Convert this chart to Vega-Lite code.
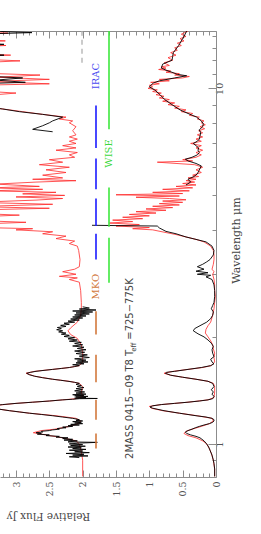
{
"$schema": "https://vega.github.io/schema/vega-lite/v6.json",
"width": 216, "height": 446,
"autosize": {"type": "none"},
"padding": {"left": 0, "top": 31, "right": 45, "bottom": 57},
"background": "white",
"config": {"view": {"stroke": null}, "axis": {"grid": false, "domainColor": "#8c8c8c", "tickColor": "#8c8c8c", "labelColor": "#555555", "titleColor": "#444444", "labelFont": "DejaVu Serif", "titleFont": "DejaVu Serif", "titleFontWeight": "normal", "labelFontSize": 9.5, "titleFontSize": 10.5}},
"resolve": {"axis": {"x": "independent", "y": "independent"}},
"datasets": {
"one": [{}],
"bands": [
{"sys":"MKO","lo":0.97,"hi":1.07},{"sys":"MKO","lo":1.17,"hi":1.33},{"sys":"MKO","lo":1.49,"hi":1.78},{"sys":"MKO","lo":2.03,"hi":2.36},
{"sys":"IRAC","lo":3.3,"hi":3.9},{"sys":"IRAC","lo":4.1,"hi":4.9},{"sys":"IRAC","lo":5.2,"hi":6.35},{"sys":"IRAC","lo":6.8,"hi":8.95},
{"sys":"WISE","lo":2.84,"hi":3.8},{"sys":"WISE","lo":4.08,"hi":5.26},{"sys":"WISE","lo":7.67,"hi":16}
],
"spec": [
{"g":"lo","s":"m","wl":0.81,"flux":0.02},{"g":"lo","s":"m","wl":0.85,"flux":0.02},{"g":"lo","s":"m","wl":0.9,"flux":0.04},{"g":"lo","s":"m","wl":0.94,"flux":0.07},{"g":"lo","s":"m","wl":0.97,"flux":0.1},{"g":"lo","s":"m","wl":1.0,"flux":0.14},{"g":"lo","s":"m","wl":1.02,"flux":0.2},{"g":"lo","s":"m","wl":1.04,"flux":0.3},{"g":"lo","s":"m","wl":1.055,"flux":0.42},{"g":"lo","s":"m","wl":1.07,"flux":0.48},{"g":"lo","s":"m","wl":1.085,"flux":0.45},{"g":"lo","s":"m","wl":1.1,"flux":0.36},{"g":"lo","s":"m","wl":1.12,"flux":0.22},{"g":"lo","s":"m","wl":1.14,"flux":0.1},{"g":"lo","s":"m","wl":1.16,"flux":0.04},{"g":"lo","s":"m","wl":1.18,"flux":0.06},{"g":"lo","s":"m","wl":1.2,"flux":0.28},{"g":"lo","s":"m","wl":1.22,"flux":0.55},{"g":"lo","s":"m","wl":1.24,"flux":0.8},{"g":"lo","s":"m","wl":1.26,"flux":0.97},{"g":"lo","s":"m","wl":1.275,"flux":1.0},{"g":"lo","s":"m","wl":1.29,"flux":0.82},{"g":"lo","s":"m","wl":1.31,"flux":0.42},{"g":"lo","s":"m","wl":1.33,"flux":0.12},{"g":"lo","s":"m","wl":1.35,"flux":0.03},{"g":"lo","s":"m","wl":1.4,"flux":0.02},{"g":"lo","s":"m","wl":1.45,"flux":0.02},{"g":"lo","s":"m","wl":1.48,"flux":0.04},{"g":"lo","s":"m","wl":1.5,"flux":0.12},{"g":"lo","s":"m","wl":1.52,"flux":0.3},{"g":"lo","s":"m","wl":1.54,"flux":0.5},{"g":"lo","s":"m","wl":1.56,"flux":0.68},{"g":"lo","s":"m","wl":1.58,"flux":0.78},{"g":"lo","s":"m","wl":1.6,"flux":0.64},{"g":"lo","s":"m","wl":1.62,"flux":0.42},{"g":"lo","s":"m","wl":1.64,"flux":0.2},{"g":"lo","s":"m","wl":1.66,"flux":0.07},{"g":"lo","s":"m","wl":1.7,"flux":0.02},{"g":"lo","s":"m","wl":1.75,"flux":0.03},{"g":"lo","s":"m","wl":1.8,"flux":0.02},{"g":"lo","s":"m","wl":1.85,"flux":0.04},{"g":"lo","s":"m","wl":1.9,"flux":0.05},{"g":"lo","s":"m","wl":1.95,"flux":0.08},{"g":"lo","s":"m","wl":2.0,"flux":0.12},{"g":"lo","s":"m","wl":2.05,"flux":0.16},{"g":"lo","s":"m","wl":2.1,"flux":0.15},{"g":"lo","s":"m","wl":2.15,"flux":0.12},{"g":"lo","s":"m","wl":2.2,"flux":0.08},{"g":"lo","s":"m","wl":2.3,"flux":0.05},{"g":"lo","s":"m","wl":2.4,"flux":0.03},{"g":"lo","s":"m","wl":2.5,"flux":0.02},{"g":"lo","s":"m","wl":2.6,"flux":0.01},{"g":"lo","s":"m","wl":2.7,"flux":0.02},{"g":"lo","s":"m","wl":2.8,"flux":0.02},{"g":"lo","s":"m","wl":2.9,"flux":0.03},{"g":"lo","s":"m","wl":3.0,"flux":0.05},{"g":"lo","s":"m","wl":3.05,"flux":0.03},{"g":"lo","s":"m","wl":3.1,"flux":0.06},{"g":"lo","s":"m","wl":3.2,"flux":0.04},{"g":"lo","s":"m","wl":3.3,"flux":0.03},{"g":"lo","s":"m","wl":3.4,"flux":0.03},{"g":"lo","s":"m","wl":3.5,"flux":0.04},{"g":"lo","s":"m","wl":3.6,"flux":0.08},{"g":"lo","s":"m","wl":3.7,"flux":0.18},{"g":"lo","s":"m","wl":3.76,"flux":0.3},{"g":"lo","s":"m","wl":3.82,"flux":0.45},{"g":"lo","s":"m","wl":3.88,"flux":0.6},{"g":"lo","s":"m","wl":3.94,"flux":0.78},{"g":"lo","s":"m","wl":4.0,"flux":0.95},{"g":"lo","s":"m","wl":4.03,"flux":1.25},{"g":"lo","s":"m","wl":4.06,"flux":1.0},{"g":"lo","s":"m","wl":4.1,"flux":1.5},{"g":"lo","s":"m","wl":4.14,"flux":1.15},{"g":"lo","s":"m","wl":4.18,"flux":1.6},{"g":"lo","s":"m","wl":4.22,"flux":1.25},{"g":"lo","s":"m","wl":4.26,"flux":1.55},{"g":"lo","s":"m","wl":4.3,"flux":1.1},{"g":"lo","s":"m","wl":4.34,"flux":1.4},{"g":"lo","s":"m","wl":4.38,"flux":1.0},{"g":"lo","s":"m","wl":4.42,"flux":1.3},{"g":"lo","s":"m","wl":4.46,"flux":0.9},{"g":"lo","s":"m","wl":4.5,"flux":1.2},{"g":"lo","s":"m","wl":4.54,"flux":0.75},{"g":"lo","s":"m","wl":4.58,"flux":1.05},{"g":"lo","s":"m","wl":4.62,"flux":0.65},{"g":"lo","s":"m","wl":4.66,"flux":0.95},{"g":"lo","s":"m","wl":4.7,"flux":0.55},{"g":"lo","s":"m","wl":4.74,"flux":0.85},{"g":"lo","s":"m","wl":4.78,"flux":0.5},{"g":"lo","s":"m","wl":4.82,"flux":0.8},{"g":"lo","s":"m","wl":4.86,"flux":0.45},{"g":"lo","s":"m","wl":4.9,"flux":0.7},{"g":"lo","s":"m","wl":4.94,"flux":1.2},{"g":"lo","s":"m","wl":4.98,"flux":0.55},{"g":"lo","s":"m","wl":5.02,"flux":1.5},{"g":"lo","s":"m","wl":5.06,"flux":0.5},{"g":"lo","s":"m","wl":5.1,"flux":0.95},{"g":"lo","s":"m","wl":5.15,"flux":0.4},{"g":"lo","s":"m","wl":5.2,"flux":0.8},{"g":"lo","s":"m","wl":5.25,"flux":0.35},{"g":"lo","s":"m","wl":5.3,"flux":0.6},{"g":"lo","s":"m","wl":5.35,"flux":0.3},{"g":"lo","s":"m","wl":5.4,"flux":0.5},{"g":"lo","s":"m","wl":5.45,"flux":0.32},{"g":"lo","s":"m","wl":5.5,"flux":0.45},{"g":"lo","s":"m","wl":5.55,"flux":0.3},{"g":"lo","s":"m","wl":5.6,"flux":0.42},{"g":"lo","s":"m","wl":5.65,"flux":0.26},{"g":"lo","s":"m","wl":5.7,"flux":0.35},{"g":"lo","s":"m","wl":5.8,"flux":0.22},{"g":"lo","s":"m","wl":5.9,"flux":0.3},{"g":"lo","s":"m","wl":6.0,"flux":0.2},{"g":"lo","s":"m","wl":6.1,"flux":0.32},{"g":"lo","s":"m","wl":6.2,"flux":0.88},{"g":"lo","s":"m","wl":6.25,"flux":0.35},{"g":"lo","s":"m","wl":6.3,"flux":0.5},{"g":"lo","s":"m","wl":6.4,"flux":0.3},{"g":"lo","s":"m","wl":6.5,"flux":0.22},{"g":"lo","s":"m","wl":6.6,"flux":0.3},{"g":"lo","s":"m","wl":6.7,"flux":0.2},{"g":"lo","s":"m","wl":6.8,"flux":0.3},{"g":"lo","s":"m","wl":6.9,"flux":0.22},{"g":"lo","s":"m","wl":7.0,"flux":0.38},{"g":"lo","s":"m","wl":7.1,"flux":0.22},{"g":"lo","s":"m","wl":7.2,"flux":0.3},{"g":"lo","s":"m","wl":7.3,"flux":0.2},{"g":"lo","s":"m","wl":7.4,"flux":0.28},{"g":"lo","s":"m","wl":7.5,"flux":0.2},{"g":"lo","s":"m","wl":7.6,"flux":0.26},{"g":"lo","s":"m","wl":7.7,"flux":0.17},{"g":"lo","s":"m","wl":7.8,"flux":0.24},{"g":"lo","s":"m","wl":7.9,"flux":0.16},{"g":"lo","s":"m","wl":8.0,"flux":0.22},{"g":"lo","s":"m","wl":8.1,"flux":0.18},{"g":"lo","s":"m","wl":8.2,"flux":0.28},{"g":"lo","s":"m","wl":8.3,"flux":0.25},{"g":"lo","s":"m","wl":8.4,"flux":0.4},{"g":"lo","s":"m","wl":8.5,"flux":0.35},{"g":"lo","s":"m","wl":8.6,"flux":0.52},{"g":"lo","s":"m","wl":8.7,"flux":0.45},{"g":"lo","s":"m","wl":8.8,"flux":0.62},{"g":"lo","s":"m","wl":8.9,"flux":0.55},{"g":"lo","s":"m","wl":9.0,"flux":0.72},{"g":"lo","s":"m","wl":9.1,"flux":0.62},{"g":"lo","s":"m","wl":9.2,"flux":0.8},{"g":"lo","s":"m","wl":9.3,"flux":0.7},{"g":"lo","s":"m","wl":9.4,"flux":0.85},{"g":"lo","s":"m","wl":9.5,"flux":0.78},{"g":"lo","s":"m","wl":9.6,"flux":0.9},{"g":"lo","s":"m","wl":9.7,"flux":0.82},{"g":"lo","s":"m","wl":9.8,"flux":0.95},{"g":"lo","s":"m","wl":9.9,"flux":0.88},{"g":"lo","s":"m","wl":10.0,"flux":1.02},{"g":"lo","s":"m","wl":10.1,"flux":0.95},{"g":"lo","s":"m","wl":10.2,"flux":1.0},{"g":"lo","s":"m","wl":10.3,"flux":0.85},{"g":"lo","s":"m","wl":10.4,"flux":0.98},{"g":"lo","s":"m","wl":10.5,"flux":0.7},{"g":"lo","s":"m","wl":10.6,"flux":0.85},{"g":"lo","s":"m","wl":10.7,"flux":0.5},{"g":"lo","s":"m","wl":10.8,"flux":0.4},{"g":"lo","s":"m","wl":10.9,"flux":0.62},{"g":"lo","s":"m","wl":11.0,"flux":0.55},{"g":"lo","s":"m","wl":11.1,"flux":0.75},{"g":"lo","s":"m","wl":11.2,"flux":0.68},{"g":"lo","s":"m","wl":11.3,"flux":0.86},{"g":"lo","s":"m","wl":11.4,"flux":0.75},{"g":"lo","s":"m","wl":11.5,"flux":0.82},{"g":"lo","s":"m","wl":11.6,"flux":0.7},{"g":"lo","s":"m","wl":11.8,"flux":0.78},{"g":"lo","s":"m","wl":12.0,"flux":0.65},{"g":"lo","s":"m","wl":12.2,"flux":0.72},{"g":"lo","s":"m","wl":12.4,"flux":0.6},{"g":"lo","s":"m","wl":12.6,"flux":0.68},{"g":"lo","s":"m","wl":12.8,"flux":0.58},{"g":"lo","s":"m","wl":13.0,"flux":0.62},{"g":"lo","s":"m","wl":13.2,"flux":0.52},{"g":"lo","s":"m","wl":13.4,"flux":0.58},{"g":"lo","s":"m","wl":13.6,"flux":0.48},{"g":"lo","s":"m","wl":13.8,"flux":0.54},{"g":"lo","s":"m","wl":14.0,"flux":0.45},{"g":"lo","s":"m","wl":14.2,"flux":0.52},{"g":"lo","s":"m","wl":14.5,"flux":0.42},

{"g":"loA","s":"o","wl":0.81,"flux":0.02},{"g":"loA","s":"o","wl":0.85,"flux":0.02},{"g":"loA","s":"o","wl":0.88,"flux":0.03},{"g":"loA","s":"o","wl":0.9,"flux":0.04},{"g":"loA","s":"o","wl":0.93,"flux":0.06},{"g":"loA","s":"o","wl":0.96,"flux":0.09},{"g":"loA","s":"o","wl":0.98,"flux":0.11},{"g":"loA","s":"o","wl":1.0,"flux":0.14},{"g":"loA","s":"o","wl":1.02,"flux":0.18},{"g":"loA","s":"o","wl":1.04,"flux":0.24},{"g":"loA","s":"o","wl":1.05,"flux":0.3},{"g":"loA","s":"o","wl":1.06,"flux":0.38},{"g":"loA","s":"o","wl":1.07,"flux":0.44},{"g":"loA","s":"o","wl":1.08,"flux":0.46},{"g":"loA","s":"o","wl":1.09,"flux":0.42},{"g":"loA","s":"o","wl":1.1,"flux":0.36},{"g":"loA","s":"o","wl":1.11,"flux":0.31},{"g":"loA","s":"o","wl":1.12,"flux":0.25},{"g":"loA","s":"o","wl":1.13,"flux":0.18},{"g":"loA","s":"o","wl":1.14,"flux":0.1},{"g":"loA","s":"o","wl":1.15,"flux":0.05},{"g":"loA","s":"o","wl":1.16,"flux":0.03},{"g":"loA","s":"o","wl":1.17,"flux":0.03},{"g":"loA","s":"o","wl":1.18,"flux":0.06},{"g":"loA","s":"o","wl":1.19,"flux":0.15},{"g":"loA","s":"o","wl":1.2,"flux":0.3},{"g":"loA","s":"o","wl":1.22,"flux":0.55},{"g":"loA","s":"o","wl":1.24,"flux":0.78},{"g":"loA","s":"o","wl":1.26,"flux":0.95},{"g":"loA","s":"o","wl":1.27,"flux":0.99},{"g":"loA","s":"o","wl":1.28,"flux":0.95},{"g":"loA","s":"o","wl":1.29,"flux":0.82},{"g":"loA","s":"o","wl":1.3,"flux":0.62},{"g":"loA","s":"o","wl":1.31,"flux":0.42},{"g":"loA","s":"o","wl":1.32,"flux":0.25},{"g":"loA","s":"o","wl":1.33,"flux":0.12},{"g":"loA","s":"o","wl":1.34,"flux":0.05},{"g":"loA","s":"o","wl":1.36,"flux":0.03},{"g":"loA","s":"o","wl":1.38,"flux":0.06},{"g":"loA","s":"o","wl":1.4,"flux":0.04},{"g":"loA","s":"o","wl":1.42,"flux":0.07},{"g":"loA","s":"o","wl":1.45,"flux":0.03},{"g":"loA","s":"o","wl":1.48,"flux":0.05},{"g":"loA","s":"o","wl":1.5,"flux":0.12},{"g":"loA","s":"o","wl":1.52,"flux":0.3},{"g":"loA","s":"o","wl":1.54,"flux":0.5},{"g":"loA","s":"o","wl":1.56,"flux":0.68},{"g":"loA","s":"o","wl":1.58,"flux":0.76},{"g":"loA","s":"o","wl":1.59,"flux":0.74},{"g":"loA","s":"o","wl":1.6,"flux":0.62},{"g":"loA","s":"o","wl":1.62,"flux":0.42},{"g":"loA","s":"o","wl":1.64,"flux":0.22},{"g":"loA","s":"o","wl":1.66,"flux":0.08},{"g":"loA","s":"o","wl":1.68,"flux":0.03},{"g":"loA","s":"o","wl":1.7,"flux":0.06},{"g":"loA","s":"o","wl":1.73,"flux":0.08},{"g":"loA","s":"o","wl":1.76,"flux":0.03},{"g":"loA","s":"o","wl":1.8,"flux":0.05},{"g":"loA","s":"o","wl":1.84,"flux":0.06},{"g":"loA","s":"o","wl":1.88,"flux":0.04},{"g":"loA","s":"o","wl":1.92,"flux":0.07},{"g":"loA","s":"o","wl":1.96,"flux":0.12},{"g":"loA","s":"o","wl":2.0,"flux":0.18},{"g":"loA","s":"o","wl":2.04,"flux":0.27},{"g":"loA","s":"o","wl":2.08,"flux":0.34},{"g":"loA","s":"o","wl":2.11,"flux":0.32},{"g":"loA","s":"o","wl":2.15,"flux":0.24},{"g":"loA","s":"o","wl":2.2,"flux":0.14},{"g":"loA","s":"o","wl":2.25,"flux":0.08},{"g":"loA","s":"o","wl":2.3,"flux":0.05},{"g":"loA","s":"o","wl":2.35,"flux":0.04},{"g":"loA","s":"o","wl":2.4,"flux":0.07},{"g":"loA","s":"o","wl":2.45,"flux":0.05},{"g":"loA","s":"o","wl":2.5,"flux":0.03},{"g":"loA","s":"o","wl":2.6,"flux":0.02},{"g":"loA","s":"o","wl":2.7,"flux":0.02},{"g":"loA","s":"o","wl":2.8,"flux":0.03},{"g":"loA","s":"o","wl":2.9,"flux":0.06},{"g":"loA","s":"o","wl":2.95,"flux":0.15},{"g":"loA","s":"o","wl":2.98,"flux":0.08},{"g":"loA","s":"o","wl":3.0,"flux":0.28},{"g":"loA","s":"o","wl":3.03,"flux":0.12},{"g":"loA","s":"o","wl":3.06,"flux":0.3},{"g":"loA","s":"o","wl":3.1,"flux":0.18},{"g":"loA","s":"o","wl":3.15,"flux":0.28},{"g":"loA","s":"o","wl":3.2,"flux":0.2},{"g":"loA","s":"o","wl":3.25,"flux":0.14},{"g":"loA","s":"o","wl":3.3,"flux":0.09},{"g":"loA","s":"o","wl":3.4,"flux":0.04},{"g":"loA","s":"o","wl":3.5,"flux":0.03},{"g":"loA","s":"o","wl":3.6,"flux":0.06},{"g":"loA","s":"o","wl":3.7,"flux":0.15},{"g":"loA","s":"o","wl":3.76,"flux":0.3},{"g":"loA","s":"o","wl":3.82,"flux":0.45},{"g":"loA","s":"o","wl":3.9,"flux":0.6},{"g":"loA","s":"o","wl":3.96,"flux":0.75},{"g":"loA","s":"o","wl":4.05,"flux":0.85},{"g":"loA","s":"o","wl":4.1,"flux":0.88},{"g":"loA","s":"o","wl":4.12,"flux":1.86},

{"g":"loB","s":"o","wl":5.35,"flux":0.45},{"g":"loB","s":"o","wl":5.45,"flux":0.38},{"g":"loB","s":"o","wl":5.55,"flux":0.42},{"g":"loB","s":"o","wl":5.65,"flux":0.33},{"g":"loB","s":"o","wl":5.75,"flux":0.28},{"g":"loB","s":"o","wl":5.85,"flux":0.26},{"g":"loB","s":"o","wl":5.95,"flux":0.24},{"g":"loB","s":"o","wl":6.05,"flux":0.22},{"g":"loB","s":"o","wl":6.15,"flux":0.3},{"g":"loB","s":"o","wl":6.25,"flux":0.42},{"g":"loB","s":"o","wl":6.32,"flux":0.46},{"g":"loB","s":"o","wl":6.4,"flux":0.36},{"g":"loB","s":"o","wl":6.5,"flux":0.28},{"g":"loB","s":"o","wl":6.6,"flux":0.25},{"g":"loB","s":"o","wl":6.7,"flux":0.27},{"g":"loB","s":"o","wl":6.8,"flux":0.26},{"g":"loB","s":"o","wl":6.9,"flux":0.3},{"g":"loB","s":"o","wl":7.0,"flux":0.34},{"g":"loB","s":"o","wl":7.1,"flux":0.28},{"g":"loB","s":"o","wl":7.2,"flux":0.25},{"g":"loB","s":"o","wl":7.35,"flux":0.24},{"g":"loB","s":"o","wl":7.5,"flux":0.23},{"g":"loB","s":"o","wl":7.65,"flux":0.25},{"g":"loB","s":"o","wl":7.8,"flux":0.2},{"g":"loB","s":"o","wl":7.95,"flux":0.19},{"g":"loB","s":"o","wl":8.1,"flux":0.22},{"g":"loB","s":"o","wl":8.3,"flux":0.29},{"g":"loB","s":"o","wl":8.5,"flux":0.42},{"g":"loB","s":"o","wl":8.7,"flux":0.54},{"g":"loB","s":"o","wl":9.0,"flux":0.66},{"g":"loB","s":"o","wl":9.3,"flux":0.77},{"g":"loB","s":"o","wl":9.6,"flux":0.84},{"g":"loB","s":"o","wl":9.9,"flux":0.92},{"g":"loB","s":"o","wl":10.1,"flux":1.0},{"g":"loB","s":"o","wl":10.35,"flux":0.94},{"g":"loB","s":"o","wl":10.5,"flux":0.85},{"g":"loB","s":"o","wl":10.7,"flux":0.62},{"g":"loB","s":"o","wl":10.85,"flux":0.44},{"g":"loB","s":"o","wl":10.95,"flux":0.58},{"g":"loB","s":"o","wl":11.1,"flux":0.66},{"g":"loB","s":"o","wl":11.25,"flux":0.75},{"g":"loB","s":"o","wl":11.4,"flux":0.82},{"g":"loB","s":"o","wl":11.7,"flux":0.8},{"g":"loB","s":"o","wl":12.0,"flux":0.66},{"g":"loB","s":"o","wl":12.3,"flux":0.65},{"g":"loB","s":"o","wl":12.6,"flux":0.64},{"g":"loB","s":"o","wl":12.9,"flux":0.6},{"g":"loB","s":"o","wl":13.2,"flux":0.56},{"g":"loB","s":"o","wl":13.7,"flux":0.51},{"g":"loB","s":"o","wl":14.0,"flux":0.48},{"g":"loB","s":"o","wl":14.5,"flux":0.44},

{"g":"up","s":"m","wl":0.81,"flux":2.0},{"g":"up","s":"m","wl":0.9,"flux":2.0},{"g":"up","s":"m","wl":0.95,"flux":2.02},{"g":"up","s":"m","wl":1.0,"flux":2.05},{"g":"up","s":"m","wl":1.02,"flux":2.1},{"g":"up","s":"m","wl":1.04,"flux":2.3},{"g":"up","s":"m","wl":1.06,"flux":2.55},{"g":"up","s":"m","wl":1.075,"flux":2.74},{"g":"up","s":"m","wl":1.09,"flux":2.62},{"g":"up","s":"m","wl":1.1,"flux":2.42},{"g":"up","s":"m","wl":1.12,"flux":2.2},{"g":"up","s":"m","wl":1.14,"flux":2.07},{"g":"up","s":"m","wl":1.16,"flux":2.03},{"g":"up","s":"m","wl":1.18,"flux":2.1},{"g":"up","s":"m","wl":1.2,"flux":2.4},{"g":"up","s":"m","wl":1.22,"flux":2.8},{"g":"up","s":"m","wl":1.24,"flux":3.1},{"g":"up","s":"m","wl":1.26,"flux":3.35},{"g":"up","s":"m","wl":1.28,"flux":3.35},{"g":"up","s":"m","wl":1.3,"flux":3.0},{"g":"up","s":"m","wl":1.32,"flux":2.5},{"g":"up","s":"m","wl":1.34,"flux":2.1},{"g":"up","s":"m","wl":1.36,"flux":2.0},{"g":"up","s":"m","wl":1.4,"flux":2.02},{"g":"up","s":"m","wl":1.45,"flux":2.0},{"g":"up","s":"m","wl":1.48,"flux":2.05},{"g":"up","s":"m","wl":1.5,"flux":2.2},{"g":"up","s":"m","wl":1.52,"flux":2.45},{"g":"up","s":"m","wl":1.55,"flux":2.72},{"g":"up","s":"m","wl":1.58,"flux":2.85},{"g":"up","s":"m","wl":1.6,"flux":2.72},{"g":"up","s":"m","wl":1.62,"flux":2.45},{"g":"up","s":"m","wl":1.64,"flux":2.2},{"g":"up","s":"m","wl":1.66,"flux":2.05},{"g":"up","s":"m","wl":1.7,"flux":2.0},{"g":"up","s":"m","wl":1.8,"flux":2.0},{"g":"up","s":"m","wl":1.9,"flux":2.02},{"g":"up","s":"m","wl":1.98,"flux":2.08},{"g":"up","s":"m","wl":2.03,"flux":2.18},{"g":"up","s":"m","wl":2.08,"flux":2.22},{"g":"up","s":"m","wl":2.12,"flux":2.18},{"g":"up","s":"m","wl":2.2,"flux":2.08},{"g":"up","s":"m","wl":2.3,"flux":2.03},{"g":"up","s":"m","wl":2.4,"flux":2.02},{"g":"up","s":"m","wl":2.5,"flux":2.02},{"g":"up","s":"m","wl":2.7,"flux":2.03},{"g":"up","s":"m","wl":2.85,"flux":2.05},{"g":"up","s":"m","wl":2.9,"flux":2.2},{"g":"up","s":"m","wl":2.93,"flux":2.08},{"g":"up","s":"m","wl":2.96,"flux":2.35},{"g":"up","s":"m","wl":3.0,"flux":2.1},{"g":"up","s":"m","wl":3.05,"flux":2.3},{"g":"up","s":"m","wl":3.1,"flux":2.12},{"g":"up","s":"m","wl":3.15,"flux":2.05},{"g":"up","s":"m","wl":3.3,"flux":2.04},{"g":"up","s":"m","wl":3.5,"flux":2.06},{"g":"up","s":"m","wl":3.6,"flux":2.08},{"g":"up","s":"m","wl":3.66,"flux":2.2},{"g":"up","s":"m","wl":3.72,"flux":2.12},{"g":"up","s":"m","wl":3.78,"flux":2.4},{"g":"up","s":"m","wl":3.84,"flux":2.25},{"g":"up","s":"m","wl":3.9,"flux":2.6},{"g":"up","s":"m","wl":3.95,"flux":2.45},{"g":"up","s":"m","wl":4.0,"flux":3.0},{"g":"up","s":"m","wl":4.03,"flux":2.75},{"g":"up","s":"m","wl":4.06,"flux":3.5},{"g":"up","s":"m","wl":4.15,"flux":3.6},{"g":"up","s":"m","wl":4.2,"flux":2.85},{"g":"up","s":"m","wl":4.25,"flux":3.6},{"g":"up","s":"m","wl":4.35,"flux":3.6},{"g":"up","s":"m","wl":4.4,"flux":2.95},{"g":"up","s":"m","wl":4.45,"flux":3.6},{"g":"up","s":"m","wl":4.55,"flux":3.6},{"g":"up","s":"m","wl":4.6,"flux":2.5},{"g":"up","s":"m","wl":4.65,"flux":3.6},{"g":"up","s":"m","wl":4.72,"flux":2.45},{"g":"up","s":"m","wl":4.78,"flux":3.6},{"g":"up","s":"m","wl":4.85,"flux":2.7},{"g":"up","s":"m","wl":4.9,"flux":2.3},{"g":"up","s":"m","wl":4.95,"flux":3.0},{"g":"up","s":"m","wl":5.0,"flux":2.27},{"g":"up","s":"m","wl":5.05,"flux":2.9},{"g":"up","s":"m","wl":5.1,"flux":2.4},{"g":"up","s":"m","wl":5.15,"flux":3.4},{"g":"up","s":"m","wl":5.2,"flux":2.6},{"g":"up","s":"m","wl":5.25,"flux":3.4},{"g":"up","s":"m","wl":5.3,"flux":2.65},{"g":"up","s":"m","wl":5.38,"flux":3.3},{"g":"up","s":"m","wl":5.45,"flux":2.7},{"g":"up","s":"m","wl":5.5,"flux":2.1},{"g":"up","s":"m","wl":5.55,"flux":2.75},{"g":"up","s":"m","wl":5.6,"flux":2.3},{"g":"up","s":"m","wl":5.7,"flux":2.6},{"g":"up","s":"m","wl":5.8,"flux":2.25},{"g":"up","s":"m","wl":5.9,"flux":2.55},{"g":"up","s":"m","wl":6.0,"flux":2.2},{"g":"up","s":"m","wl":6.1,"flux":2.65},{"g":"up","s":"m","wl":6.2,"flux":2.3},{"g":"up","s":"m","wl":6.3,"flux":2.5},{"g":"up","s":"m","wl":6.4,"flux":2.12},{"g":"up","s":"m","wl":6.5,"flux":2.2},{"g":"up","s":"m","wl":6.6,"flux":2.08},{"g":"up","s":"m","wl":6.7,"flux":2.4},{"g":"up","s":"m","wl":6.8,"flux":2.1},{"g":"up","s":"m","wl":6.9,"flux":2.3},{"g":"up","s":"m","wl":7.0,"flux":2.1},{"g":"up","s":"m","wl":7.1,"flux":2.2},{"g":"up","s":"m","wl":7.2,"flux":2.08},{"g":"up","s":"m","wl":7.3,"flux":2.2},{"g":"up","s":"m","wl":7.4,"flux":2.1},{"g":"up","s":"m","wl":7.6,"flux":2.15},{"g":"up","s":"m","wl":7.8,"flux":2.1},{"g":"up","s":"m","wl":8.0,"flux":2.2},{"g":"up","s":"m","wl":8.1,"flux":2.15},{"g":"up","s":"m","wl":8.2,"flux":2.35},{"g":"up","s":"m","wl":8.3,"flux":2.25},{"g":"up","s":"m","wl":8.45,"flux":2.6},{"g":"up","s":"m","wl":8.6,"flux":2.9},{"g":"up","s":"m","wl":8.7,"flux":3.1},{"g":"up","s":"m","wl":8.8,"flux":3.3},{"g":"up","s":"m","wl":9.0,"flux":3.6},{"g":"up","s":"m","wl":9.5,"flux":3.6},{"g":"up","s":"m","wl":9.7,"flux":3.0},{"g":"up","s":"m","wl":9.85,"flux":3.6},{"g":"up","s":"m","wl":10.2,"flux":3.6},{"g":"up","s":"m","wl":10.3,"flux":2.5},{"g":"up","s":"m","wl":10.45,"flux":3.4},{"g":"up","s":"m","wl":10.6,"flux":2.5},{"g":"up","s":"m","wl":10.75,"flux":3.3},{"g":"up","s":"m","wl":10.9,"flux":2.64},{"g":"up","s":"m","wl":11.05,"flux":3.6},{"g":"up","s":"m","wl":11.8,"flux":3.6},{"g":"up","s":"m","wl":11.95,"flux":2.94},{"g":"up","s":"m","wl":12.1,"flux":3.6},{"g":"up","s":"m","wl":12.3,"flux":3.6},{"g":"up","s":"m","wl":12.4,"flux":3.08},{"g":"up","s":"m","wl":12.55,"flux":3.6},{"g":"up","s":"m","wl":13.1,"flux":3.6},{"g":"up","s":"m","wl":13.2,"flux":3.15},{"g":"up","s":"m","wl":13.35,"flux":3.6},{"g":"up","s":"m","wl":13.5,"flux":3.6},{"g":"up","s":"m","wl":13.6,"flux":3.16},{"g":"up","s":"m","wl":13.75,"flux":3.6},{"g":"up","s":"m","wl":14.2,"flux":3.6},{"g":"up","s":"m","wl":14.3,"flux":3.12},{"g":"up","s":"m","wl":14.4,"flux":3.6},{"g":"up","s":"m","wl":14.6,"flux":3.6},

{"g":"upA","s":"o","wl":0.915,"flux":2.05},{"g":"upA","s":"o","wl":0.92,"flux":2.2},{"g":"upA","s":"o","wl":0.925,"flux":1.92},{"g":"upA","s":"o","wl":0.93,"flux":2.15},{"g":"upA","s":"o","wl":0.935,"flux":1.98},{"g":"upA","s":"o","wl":0.94,"flux":2.25},{"g":"upA","s":"o","wl":0.945,"flux":1.9},{"g":"upA","s":"o","wl":0.95,"flux":2.12},{"g":"upA","s":"o","wl":0.955,"flux":2.0},{"g":"upA","s":"o","wl":0.96,"flux":2.2},{"g":"upA","s":"o","wl":0.965,"flux":1.95},{"g":"upA","s":"o","wl":0.97,"flux":2.15},{"g":"upA","s":"o","wl":0.975,"flux":2.02},{"g":"upA","s":"o","wl":0.98,"flux":2.22},{"g":"upA","s":"o","wl":0.985,"flux":1.96},{"g":"upA","s":"o","wl":0.99,"flux":2.18},{"g":"upA","s":"o","wl":0.995,"flux":2.0},{"g":"upA","s":"o","wl":1.0,"flux":2.2},{"g":"upA","s":"o","wl":1.005,"flux":2.05},{"g":"upA","s":"o","wl":1.01,"flux":1.78},{"g":"upA","s":"o","wl":1.013,"flux":2.22},{"g":"upA","s":"o","wl":1.02,"flux":2.08},{"g":"upA","s":"o","wl":1.025,"flux":2.28},{"g":"upA","s":"o","wl":1.03,"flux":2.15},{"g":"upA","s":"o","wl":1.035,"flux":2.3},{"g":"upA","s":"o","wl":1.04,"flux":2.22},{"g":"upA","s":"o","wl":1.045,"flux":2.4},{"g":"upA","s":"o","wl":1.05,"flux":2.35},{"g":"upA","s":"o","wl":1.055,"flux":2.55},{"g":"upA","s":"o","wl":1.06,"flux":2.5},{"g":"upA","s":"o","wl":1.065,"flux":2.68},{"g":"upA","s":"o","wl":1.07,"flux":2.62},{"g":"upA","s":"o","wl":1.075,"flux":2.7},{"g":"upA","s":"o","wl":1.08,"flux":2.6},{"g":"upA","s":"o","wl":1.085,"flux":2.62},{"g":"upA","s":"o","wl":1.09,"flux":2.5},{"g":"upA","s":"o","wl":1.095,"flux":2.45},{"g":"upA","s":"o","wl":1.1,"flux":2.35},{"g":"upA","s":"o","wl":1.105,"flux":2.38},{"g":"upA","s":"o","wl":1.11,"flux":2.25},{"g":"upA","s":"o","wl":1.115,"flux":2.3},{"g":"upA","s":"o","wl":1.12,"flux":2.15},{"g":"upA","s":"o","wl":1.125,"flux":2.22},{"g":"upA","s":"o","wl":1.13,"flux":2.05},{"g":"upA","s":"o","wl":1.135,"flux":2.18},{"g":"upA","s":"o","wl":1.14,"flux":2.0},{"g":"upA","s":"o","wl":1.145,"flux":2.12},{"g":"upA","s":"o","wl":1.15,"flux":2.02},{"g":"upA","s":"o","wl":1.155,"flux":2.15},{"g":"upA","s":"o","wl":1.16,"flux":2.0},{"g":"upA","s":"o","wl":1.165,"flux":2.1},{"g":"upA","s":"o","wl":1.17,"flux":2.05},{"g":"upA","s":"o","wl":1.18,"flux":2.15},{"g":"upA","s":"o","wl":1.19,"flux":2.3},{"g":"upA","s":"o","wl":1.2,"flux":2.45},{"g":"upA","s":"o","wl":1.21,"flux":2.62},{"g":"upA","s":"o","wl":1.22,"flux":2.8},{"g":"upA","s":"o","wl":1.23,"flux":2.95},{"g":"upA","s":"o","wl":1.24,"flux":3.1},{"g":"upA","s":"o","wl":1.26,"flux":3.35},{"g":"upA","s":"o","wl":1.28,"flux":3.35},{"g":"upA","s":"o","wl":1.29,"flux":3.2},{"g":"upA","s":"o","wl":1.3,"flux":3.0},{"g":"upA","s":"o","wl":1.31,"flux":2.75},{"g":"upA","s":"o","wl":1.32,"flux":2.5},{"g":"upA","s":"o","wl":1.33,"flux":2.3},{"g":"upA","s":"o","wl":1.335,"flux":2.15},{"g":"upA","s":"o","wl":1.34,"flux":2.05},{"g":"upA","s":"o","wl":1.342,"flux":1.78},{"g":"upA","s":"o","wl":1.345,"flux":2.12},{"g":"upA","s":"o","wl":1.35,"flux":1.95},{"g":"upA","s":"o","wl":1.355,"flux":2.1},{"g":"upA","s":"o","wl":1.36,"flux":1.92},{"g":"upA","s":"o","wl":1.365,"flux":2.12},{"g":"upA","s":"o","wl":1.37,"flux":1.98},{"g":"upA","s":"o","wl":1.375,"flux":2.15},{"g":"upA","s":"o","wl":1.38,"flux":1.95},{"g":"upA","s":"o","wl":1.39,"flux":2.1},{"g":"upA","s":"o","wl":1.4,"flux":1.97},{"g":"upA","s":"o","wl":1.41,"flux":2.12},{"g":"upA","s":"o","wl":1.42,"flux":2.0},{"g":"upA","s":"o","wl":1.43,"flux":2.1},{"g":"upA","s":"o","wl":1.44,"flux":1.98},{"g":"upA","s":"o","wl":1.45,"flux":2.08},{"g":"upA","s":"o","wl":1.46,"flux":2.02},{"g":"upA","s":"o","wl":1.47,"flux":2.1},{"g":"upA","s":"o","wl":1.48,"flux":2.05},{"g":"upA","s":"o","wl":1.49,"flux":2.12},{"g":"upA","s":"o","wl":1.5,"flux":2.22},{"g":"upA","s":"o","wl":1.51,"flux":2.33},{"g":"upA","s":"o","wl":1.52,"flux":2.45},{"g":"upA","s":"o","wl":1.535,"flux":2.6},{"g":"upA","s":"o","wl":1.55,"flux":2.72},{"g":"upA","s":"o","wl":1.565,"flux":2.8},{"g":"upA","s":"o","wl":1.58,"flux":2.84},{"g":"upA","s":"o","wl":1.59,"flux":2.78},{"g":"upA","s":"o","wl":1.6,"flux":2.7},{"g":"upA","s":"o","wl":1.61,"flux":2.58},{"g":"upA","s":"o","wl":1.62,"flux":2.45},{"g":"upA","s":"o","wl":1.63,"flux":2.32},{"g":"upA","s":"o","wl":1.64,"flux":2.2},{"g":"upA","s":"o","wl":1.65,"flux":2.12},{"g":"upA","s":"o","wl":1.66,"flux":2.05},{"g":"upA","s":"o","wl":1.67,"flux":2.15},{"g":"upA","s":"o","wl":1.68,"flux":1.98},{"g":"upA","s":"o","wl":1.69,"flux":2.1},{"g":"upA","s":"o","wl":1.7,"flux":1.92},{"g":"upA","s":"o","wl":1.71,"flux":2.08},{"g":"upA","s":"o","wl":1.72,"flux":1.95},{"g":"upA","s":"o","wl":1.735,"flux":2.12},{"g":"upA","s":"o","wl":1.75,"flux":1.9},{"g":"upA","s":"o","wl":1.765,"flux":2.05},{"g":"upA","s":"o","wl":1.78,"flux":1.93},{"g":"upA","s":"o","wl":1.795,"flux":2.1},{"g":"upA","s":"o","wl":1.81,"flux":1.97},{"g":"upA","s":"o","wl":1.825,"flux":2.12},{"g":"upA","s":"o","wl":1.84,"flux":1.95},{"g":"upA","s":"o","wl":1.855,"flux":2.08},{"g":"upA","s":"o","wl":1.87,"flux":1.98},{"g":"upA","s":"o","wl":1.885,"flux":2.15},{"g":"upA","s":"o","wl":1.9,"flux":2.0},{"g":"upA","s":"o","wl":1.915,"flux":2.12},{"g":"upA","s":"o","wl":1.93,"flux":2.02},{"g":"upA","s":"o","wl":1.945,"flux":2.2},{"g":"upA","s":"o","wl":1.96,"flux":2.08},{"g":"upA","s":"o","wl":1.975,"flux":2.22},{"g":"upA","s":"o","wl":1.99,"flux":2.12},{"g":"upA","s":"o","wl":2.005,"flux":2.28},{"g":"upA","s":"o","wl":2.02,"flux":2.2},{"g":"upA","s":"o","wl":2.035,"flux":2.32},{"g":"upA","s":"o","wl":2.05,"flux":2.25},{"g":"upA","s":"o","wl":2.065,"flux":2.36},{"g":"upA","s":"o","wl":2.08,"flux":2.3},{"g":"upA","s":"o","wl":2.095,"flux":2.39},{"g":"upA","s":"o","wl":2.11,"flux":2.32},{"g":"upA","s":"o","wl":2.125,"flux":2.38},{"g":"upA","s":"o","wl":2.14,"flux":2.25},{"g":"upA","s":"o","wl":2.155,"flux":2.33},{"g":"upA","s":"o","wl":2.17,"flux":2.2},{"g":"upA","s":"o","wl":2.185,"flux":2.28},{"g":"upA","s":"o","wl":2.2,"flux":2.12},{"g":"upA","s":"o","wl":2.215,"flux":2.22},{"g":"upA","s":"o","wl":2.23,"flux":2.05},{"g":"upA","s":"o","wl":2.245,"flux":2.18},{"g":"upA","s":"o","wl":2.26,"flux":2.0},{"g":"upA","s":"o","wl":2.275,"flux":2.15},{"g":"upA","s":"o","wl":2.29,"flux":1.95},{"g":"upA","s":"o","wl":2.305,"flux":2.12},{"g":"upA","s":"o","wl":2.32,"flux":1.9},{"g":"upA","s":"o","wl":2.335,"flux":2.1},{"g":"upA","s":"o","wl":2.35,"flux":1.85},{"g":"upA","s":"o","wl":2.365,"flux":2.15},{"g":"upA","s":"o","wl":2.38,"flux":1.8},{"g":"upA","s":"o","wl":2.395,"flux":2.05},{"g":"upA","s":"o","wl":2.41,"flux":1.9},{"g":"upA","s":"o","wl":2.43,"flux":2.0},

{"g":"upB","s":"o","wl":7.55,"flux":2.45},{"g":"upB","s":"o","wl":7.67,"flux":2.75},{"g":"upB","s":"o","wl":7.85,"flux":2.6},{"g":"upB","s":"o","wl":8.0,"flux":2.5},{"g":"upB","s":"o","wl":8.1,"flux":2.45},{"g":"upB","s":"o","wl":8.3,"flux":2.3},{"g":"upB","s":"o","wl":8.45,"flux":2.6},{"g":"upB","s":"o","wl":8.6,"flux":2.95},{"g":"upB","s":"o","wl":8.75,"flux":3.2},{"g":"upB","s":"o","wl":8.9,"flux":3.5},{"g":"upB","s":"o","wl":9.5,"flux":3.6},{"g":"upB","s":"o","wl":10.3,"flux":3.6},{"g":"upB","s":"o","wl":10.4,"flux":2.86},{"g":"upB","s":"o","wl":10.55,"flux":3.3},{"g":"upB","s":"o","wl":10.7,"flux":2.9},{"g":"upB","s":"o","wl":10.85,"flux":3.6},{"g":"upB","s":"o","wl":12.3,"flux":3.6},{"g":"upB","s":"o","wl":12.4,"flux":3.18},{"g":"upB","s":"o","wl":12.5,"flux":3.6},{"g":"upB","s":"o","wl":13.1,"flux":3.6},{"g":"upB","s":"o","wl":13.3,"flux":3.18},{"g":"upB","s":"o","wl":13.45,"flux":3.6},{"g":"upB","s":"o","wl":14.2,"flux":3.6},{"g":"upB","s":"o","wl":14.35,"flux":2.76},{"g":"upB","s":"o","wl":14.5,"flux":3.4}
]
},
"layer": [
{"data": {"name": "spec"}, "transform": [{"filter": "datum.s == 'm'"}],
 "mark": {"type": "line", "color": "#ff2a2a", "strokeWidth": 0.8, "clip": true},
 "encoding": {
  "x": {"field": "flux", "type": "quantitative", "scale": {"domain": [0, 3.24], "reverse": true, "nice": false, "zero": false},
        "axis": {"orient": "bottom", "values": [0, 0.5, 1, 1.5, 2, 2.5, 3], "format": "~g", "tickSize": -7, "labelAngle": -90, "labelPadding": 11, "domain": true,
                 "title": "Relative Flux Jy", "titleAngle": 180, "titleX": 48, "titleY": 38, "titleAlign": "center", "titleBaseline": "middle"}},
  "y": {"field": "wl", "type": "quantitative", "scale": {"type": "log", "domain": [0.807, 14.5], "nice": false},
        "axis": {"orient": "right", "values": [1, 10], "format": "~g", "tickSize": -8, "labelAngle": -90, "labelPadding": 6, "domain": true,
                 "title": "Wavelength μm", "titleAngle": -90, "titleX": 20, "titleY": 209, "titleAlign": "center", "titleBaseline": "middle", "titleFontSize": 11}},
  "detail": {"field": "g"},
  "order": {"field": "wl", "type": "quantitative"}
 }},
{"data": {"name": "spec"}, "transform": [{"filter": "datum.s == 'o'"}],
 "mark": {"type": "line", "color": "#000000", "strokeWidth": 0.9, "clip": true},
 "encoding": {
  "x": {"field": "flux", "type": "quantitative", "scale": {"domain": [0, 3.24], "reverse": true, "nice": false, "zero": false},
        "axis": {"orient": "bottom", "values": [0.1,0.2,0.3,0.4,0.6,0.7,0.8,0.9,1.1,1.2,1.3,1.4,1.6,1.7,1.8,1.9,2.1,2.2,2.3,2.4,2.6,2.7,2.8,2.9,3.1,3.2], "tickSize": -4, "labels": false, "domain": false, "title": null}},
  "y": {"field": "wl", "type": "quantitative", "scale": {"type": "log", "domain": [0.807, 14.5], "nice": false},
        "axis": {"orient": "right", "values": [0.9,2,3,4,5,6,7,8,9,11,12,13,14], "tickSize": -4, "labels": false, "domain": false, "title": null}},
  "detail": {"field": "g"},
  "order": {"field": "wl", "type": "quantitative"}
 }},
{"data": {"name": "bands"}, "transform": [{"filter": "datum.sys == 'MKO'"}],
 "mark": {"type": "rule", "color": "#d2783c", "strokeWidth": 1.6, "clip": true},
 "encoding": {
  "x": {"datum": 1.8, "type": "quantitative", "scale": {"domain": [0, 3.24], "reverse": true, "nice": false, "zero": false},
        "axis": {"orient": "top", "values": [0, 0.5, 1, 1.5, 2, 2.5, 3], "tickSize": -7, "labels": false, "domain": true, "title": null}},
  "y": {"field": "lo", "type": "quantitative", "scale": {"type": "log", "domain": [0.807, 14.5], "nice": false}, "axis": null},
  "y2": {"field": "hi"}
 }},
{"data": {"name": "bands"}, "transform": [{"filter": "datum.sys == 'IRAC'"}],
 "mark": {"type": "rule", "color": "#1a1aff", "strokeWidth": 1.6, "clip": true},
 "encoding": {
  "x": {"datum": 1.8, "type": "quantitative", "scale": {"domain": [0, 3.24], "reverse": true, "nice": false, "zero": false},
        "axis": {"orient": "top", "values": [0.1,0.2,0.3,0.4,0.6,0.7,0.8,0.9,1.1,1.2,1.3,1.4,1.6,1.7,1.8,1.9,2.1,2.2,2.3,2.4,2.6,2.7,2.8,2.9,3.1,3.2], "tickSize": -4, "labels": false, "domain": false, "title": null}},
  "y": {"field": "lo", "type": "quantitative", "scale": {"type": "log", "domain": [0.807, 14.5], "nice": false}, "axis": null},
  "y2": {"field": "hi"}
 }},
{"data": {"name": "bands"}, "transform": [{"filter": "datum.sys == 'WISE'"}],
 "mark": {"type": "rule", "color": "#3ee83e", "strokeWidth": 1.6, "clip": true},
 "encoding": {
  "x": {"datum": 1.605, "type": "quantitative", "scale": {"domain": [0, 3.24], "reverse": true, "nice": false, "zero": false}, "axis": null},
  "y": {"field": "lo", "type": "quantitative", "scale": {"type": "log", "domain": [0.807, 14.5], "nice": false}, "axis": null},
  "y2": {"field": "hi"}
 }},
{"data": {"name": "one"},
 "mark": {"type": "rule", "color": "#b0b0b0", "strokeWidth": 1.3, "strokeDash": [5, 4], "clip": true},
 "encoding": {
  "x": {"datum": 2.01, "type": "quantitative", "axis": null},
  "y": {"datum": 11.8, "type": "quantitative", "axis": null},
  "y2": {"datum": 14.5}
 }},
{"data": {"name": "one"},
 "mark": {"type": "text", "angle": 270, "align": "left", "baseline": "middle", "font": "DejaVu Sans", "fontSize": 10, "color": "#444444", "text": "2MASS 0415\u221209 T8 T"},
 "encoding": {"x": {"datum": 1.29, "type": "quantitative", "axis": null}, "y": {"datum": 0.907, "type": "quantitative", "axis": null}}},
{"data": {"name": "one"},
 "mark": {"type": "text", "angle": 270, "align": "left", "baseline": "middle", "font": "DejaVu Sans", "fontSize": 7, "color": "#444444", "text": "eff"},
 "encoding": {"x": {"datum": 1.23, "type": "quantitative", "axis": null}, "y": {"datum": 1.815, "type": "quantitative", "axis": null}}},
{"data": {"name": "one"},
 "mark": {"type": "text", "angle": 270, "align": "left", "baseline": "middle", "font": "DejaVu Sans", "fontSize": 10, "color": "#444444", "text": "=725\u2212775K"},
 "encoding": {"x": {"datum": 1.29, "type": "quantitative", "axis": null}, "y": {"datum": 1.963, "type": "quantitative", "axis": null}}},
{"data": {"name": "one"},
 "mark": {"type": "text", "angle": 270, "align": "center", "baseline": "middle", "font": "DejaVu Serif", "fontSize": 10, "color": "#d2783c", "text": "MKO"},
 "encoding": {"x": {"datum": 1.8, "type": "quantitative", "axis": null}, "y": {"datum": 2.77, "type": "quantitative", "axis": null}}},
{"data": {"name": "one"},
 "mark": {"type": "text", "angle": 270, "align": "center", "baseline": "middle", "font": "DejaVu Serif", "fontSize": 10, "color": "#4a4af0", "text": "IRAC"},
 "encoding": {"x": {"datum": 1.8, "type": "quantitative", "axis": null}, "y": {"datum": 10.83, "type": "quantitative", "axis": null}}},
{"data": {"name": "one"},
 "mark": {"type": "text", "angle": 270, "align": "center", "baseline": "middle", "font": "DejaVu Serif", "fontSize": 10, "color": "#3ed83e", "text": "WISE"},
 "encoding": {"x": {"datum": 1.605, "type": "quantitative", "axis": null}, "y": {"datum": 6.56, "type": "quantitative", "axis": null}}}
]
}
